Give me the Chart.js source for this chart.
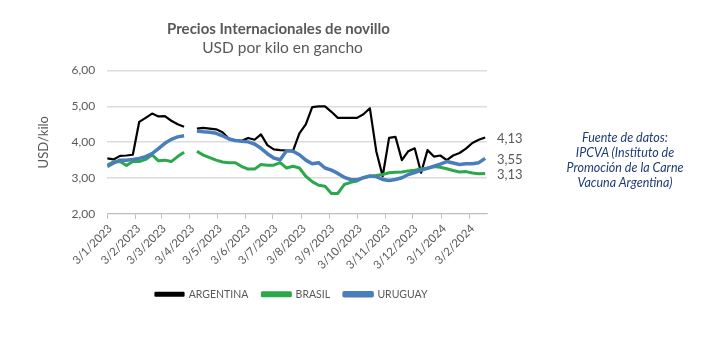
<!DOCTYPE html>
<html>
<head>
<meta charset="utf-8">
<script src="https://cdn.jsdelivr.net/npm/chart.js@4.4.1/dist/chart.umd.min.js"></script>
<style>
  html, body { margin: 0; padding: 0; background: #ffffff; }
  #wrap { position: relative; width: 724px; height: 354px; }
  #note {
    position: absolute; left: 545px; top: 130px; width: 160px;
    text-align: center; font-family: Lato, "Open Sans", sans-serif; font-style: italic;
    font-size: 12.5px; line-height: 15px; color: #1f3c78;
  }
</style>
</head>
<body>
<div id="wrap">
  <canvas id="c" width="724" height="354"></canvas>
  <div id="note">Fuente de datos:<br>IPCVA (Instituto de<br>Promoción de la Carne<br>Vacuna Argentina)</div>
</div>
<script>
// ---- data (weekly observations starting 3/1/2023) ----
const seriesStart = '3/1/2023';
const weekStepDays = 7;
const tickLabels = ['3/1/2023','3/2/2023','3/3/2023','3/4/2023','3/5/2023','3/6/2023','3/7/2023',
  '3/8/2023','3/9/2023','3/10/2023','3/11/2023','3/12/2023','3/1/2024','3/2/2024'];
const seriesNames = ['ARGENTINA', 'BRASIL', 'URUGUAY'];
const argentina = [3.55,3.52,3.62,3.63,3.65,4.57,4.68,4.80,4.72,4.73,4.60,4.50,4.43,null,
  4.38,4.40,4.38,4.36,4.28,4.10,4.05,4.04,4.12,4.07,4.22,3.92,3.80,3.78,3.77,3.76,
  4.25,4.50,4.98,5.00,5.00,4.85,4.68,4.68,4.68,4.68,4.78,4.95,3.75,3.05,4.12,4.15,
  3.50,3.75,3.83,3.15,3.78,3.60,3.63,3.50,3.63,3.70,3.82,3.98,4.07,4.13];
const brasil = [3.36,3.45,3.46,3.35,3.46,3.46,3.52,3.65,3.48,3.50,3.46,3.60,3.72,null,
  3.75,3.64,3.57,3.50,3.45,3.43,3.43,3.32,3.25,3.25,3.38,3.36,3.36,3.43,3.28,3.33,
  3.28,3.05,2.90,2.80,2.77,2.57,2.57,2.82,2.88,2.92,3.01,3.05,3.07,3.10,3.15,3.16,
  3.17,3.20,3.22,3.25,3.28,3.32,3.30,3.26,3.21,3.17,3.18,3.14,3.12,3.13];
const uruguay = [3.32,3.42,3.50,3.50,3.52,3.55,3.60,3.68,3.82,3.97,4.08,4.15,4.18,null,
  4.31,4.29,4.28,4.25,4.18,4.09,4.05,4.03,4.01,3.95,3.83,3.68,3.56,3.51,3.76,3.75,
  3.65,3.50,3.40,3.43,3.28,3.22,3.13,3.02,2.96,2.95,3.01,3.06,3.04,2.96,2.93,2.96,
  3.01,3.10,3.15,3.22,3.27,3.33,3.39,3.46,3.42,3.38,3.40,3.40,3.43,3.55];
const yTicks = [2, 3, 4, 5, 6];

// ---- helpers ----
function dayOf(s) {
  const [d, m, y] = s.split('/').map(Number);
  const [d0, m0, y0] = seriesStart.split('/').map(Number);
  return (Date.UTC(y, m - 1, d) - Date.UTC(y0, m0 - 1, d0)) / 86400000;
}
const tickDays = tickLabels.map(dayOf);
const toPoints = arr => arr.map((v, i) => ({ x: i * weekStepDays, y: v }));
const fmt = v => v.toFixed(2).replace('.', ',');
const lastDay = (argentina.length - 1) * weekStepDays;

const GRAY = '#595959';
const FONT = 'Lato, "Open Sans", sans-serif';
const TITLE = 'Precios Internacionales de novillo';
const SUBTITLE = 'USD por kilo en gancho';

const endLabels = {
  id: 'endLabels',
  afterDatasetsDraw(chart) {
    const { ctx, chartArea } = chart;
    const ys = chart.scales.y;
    ctx.save();
    ctx.font = '13px ' + FONT;
    ctx.fillStyle = GRAY;
    ctx.textBaseline = 'middle';
    ctx.textAlign = 'left';
    chart.data.datasets.forEach(ds => {
      const v = ds.data[ds.data.length - 1].y;
      ctx.fillText(fmt(v), chartArea.right + 10, ys.getPixelForValue(v) + 1.5);
    });
    ctx.restore();
  }
};

// shift title, subtitle and legend horizontally so they sit where the original has them
const shiftBoxes = {
  id: 'shiftBoxes',
  afterLayout(chart) {
    chart.boxes.forEach(b => {
      let dx = 0;
      if (b.options && b.options.text === TITLE) dx = 21;
      else if (b.options && b.options.text === SUBTITLE) dx = 25;
      else if (b === chart.legend) dx = 34;
      b.left += dx; b.right += dx;
    });
  }
};

new Chart(document.getElementById('c'), {
  type: 'line',
  data: {
    datasets: [
      { label: seriesNames[0], data: toPoints(argentina), borderColor: '#000000', backgroundColor: '#000000', borderWidth: 2.2, order: 3 },
      { label: seriesNames[1], data: toPoints(brasil), borderColor: '#2aa84a', backgroundColor: '#2aa84a', borderWidth: 3, order: 2 },
      { label: seriesNames[2], data: toPoints(uruguay), borderColor: '#4a7dbb', backgroundColor: '#4a7dbb', borderWidth: 3.5, order: 1 }
    ]
  },
  options: {
    responsive: false,
    animation: false,
    spanGaps: false,
    elements: { point: { radius: 0 }, line: { tension: 0, borderJoinStyle: 'round' } },
    layout: { padding: { left: 28, right: 237, top: 10, bottom: 44.5 } },
    plugins: {
      tooltip: { enabled: false },
      title: {
        display: true, text: TITLE, color: GRAY,
        font: { family: FONT, size: 15, weight: 'bold' }, padding: { top: 10, bottom: 1 }
      },
      subtitle: {
        display: true, text: SUBTITLE, color: GRAY,
        font: { family: FONT, size: 15.5 }, padding: { top: 0, bottom: 13 }
      },
      legend: {
        position: 'bottom',
        labels: {
          color: GRAY, font: { family: FONT, size: 10.5 }, boxWidth: 28, boxHeight: 3,
          padding: 14, sort: (a, b) => a.datasetIndex - b.datasetIndex
        }
      }
    },
    scales: {
      x: {
        type: 'linear', min: 0, max: lastDay + 2,
        afterBuildTicks: s => { s.ticks = tickDays.map(v => ({ value: v })); },
        ticks: {
          autoSkip: false, minRotation: 45, maxRotation: 45, color: GRAY, padding: 3,
          labelOffset: 3,
          font: { family: FONT, size: 11.5 },
          callback: (v, i) => tickLabels[i]
        },
        grid: { drawOnChartArea: false, drawTicks: true, tickLength: 5, color: '#bfbfbf' },
        border: { display: true, color: '#bfbfbf', width: 1 }
      },
      y: {
        min: 2, max: 6,
        afterBuildTicks: s => { s.ticks = yTicks.map(v => ({ value: v })); },
        ticks: { color: GRAY, font: { family: FONT, size: 12 }, padding: 12, callback: v => fmt(v) },
        grid: { color: '#dcdcdc', lineWidth: 1.5, drawTicks: false },
        border: { display: false },
        title: { display: true, text: 'USD/kilo', color: GRAY, font: { family: FONT, size: 13 }, padding: 8 }
      }
    }
  },
  plugins: [endLabels, shiftBoxes]
});
</script>
</body>
</html>
